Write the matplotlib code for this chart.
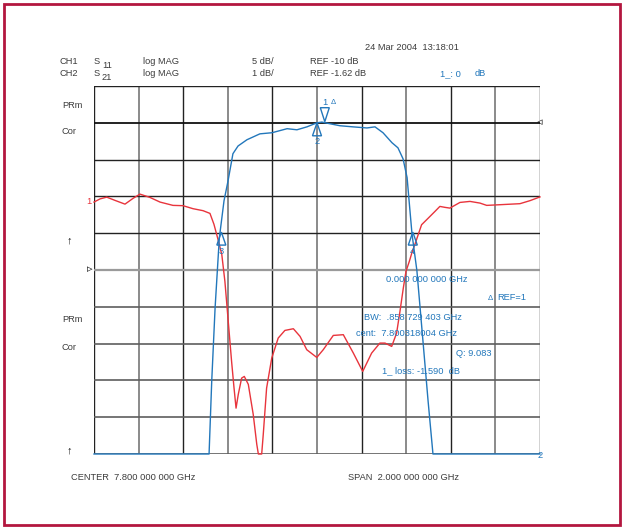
import matplotlib
matplotlib.use("Agg")
import matplotlib.pyplot as plt
import matplotlib.transforms as mtransforms
from matplotlib.patches import Polygon, Rectangle
import numpy as np

plt.rcParams["font.family"] = ["Liberation Sans", "DejaVu Sans"]

# S11 trace (CH1), frequency in GHz, level in dB
s11_freq = [6.800, 6.827, 6.857, 6.894, 6.939, 6.975, 7.006, 7.051, 7.096, 7.154,
            7.199, 7.244, 7.289, 7.320, 7.338, 7.356, 7.373, 7.387, 7.402, 7.417,
            7.428, 7.437, 7.447, 7.462, 7.474, 7.492, 7.514, 7.530, 7.537, 7.552,
            7.559, 7.574, 7.597, 7.626, 7.656, 7.694, 7.724, 7.754, 7.799, 7.828,
            7.873, 7.918, 7.963, 8.005, 8.045, 8.082, 8.105, 8.135, 8.157, 8.172,
            8.187, 8.199, 8.214, 8.226, 8.239, 8.269, 8.299, 8.329, 8.351, 8.374,
            8.396, 8.441, 8.486, 8.531, 8.561, 8.620, 8.710, 8.755, 8.800]
s11_db = [-10.77, -10.34, -10.10, -10.54, -11.05, -10.27, -9.69, -10.14, -10.77, -11.22,
          -11.26, -11.67, -11.94, -12.31, -13.80, -15.84, -17.88, -21.55, -26.98, -32.42,
          -36.05, -38.77, -36.90, -34.69, -34.46, -35.54, -39.62, -43.70, -47.0, -47.0,
          -42.34, -36.05, -31.97, -29.25, -28.21, -27.98, -29.02, -30.83, -31.88, -30.83,
          -28.89, -28.79, -31.29, -33.78, -31.29, -29.93, -29.93, -30.38, -28.57, -25.63,
          -22.46, -20.19, -18.83, -17.61, -16.52, -13.85, -12.95, -12.04, -11.36, -11.49,
          -11.59, -10.82, -10.68, -10.91, -11.22, -11.13, -10.99, -10.58, -10.07]

# S21 trace (CH2)
s21_freq = [6.800, 7.316, 7.328, 7.343, 7.362, 7.383, 7.401, 7.423, 7.446, 7.486,
            7.544, 7.598, 7.666, 7.710, 7.755, 7.800, 7.822, 7.845, 7.903, 7.961,
            8.024, 8.060, 8.096, 8.136, 8.163, 8.186, 8.204, 8.213, 8.226, 8.248,
            8.275, 8.298, 8.320, 8.800]
s21_db = [-12.0, -12.0, -8.63, -6.65, -4.75, -3.74, -3.20, -2.46, -2.25, -2.08,
          -1.92, -1.89, -1.78, -1.81, -1.73, -1.62, -1.60, -1.63, -1.70, -1.73,
          -1.76, -1.73, -1.89, -2.16, -2.30, -2.60, -3.11, -3.74, -4.64, -5.64,
          -7.54, -9.17, -12.0, -12.0]

# markers: (label, freq GHz, S21 dB)
marker_names = ["1", "2", "3", "4"]
marker_freq = [7.835, 7.800, 7.371, 8.2296]
marker_db = [-1.59, -1.62, -4.59, -4.59]

center, span = 7.8, 2.0
ch1_scale, ch1_ref, ch1_refpos = 5.0, -10.0, 7
ch2_scale, ch2_ref, ch2_refpos = 1.0, -1.62, 9

RED = "#e8343c"
BLUE = "#2277bb"
GREY = "#3c3c3c"
FS = 6.7

W, H = 624, 529
fig = plt.figure(figsize=(W / 100, H / 100), dpi=100)
fig.patch.set_facecolor("white")

ax = fig.add_axes([94 / W, 1 - 454 / H, 446 / W, 368 / H])
ax2 = ax.twinx()

xmin, xmax = center - span / 2, center + span / 2
ax.set_xlim(xmin, xmax)
ax.set_ylim(ch1_ref - ch1_refpos * ch1_scale, ch1_ref + (10 - ch1_refpos) * ch1_scale)
ax2.set_ylim(ch2_ref - ch2_refpos * ch2_scale, ch2_ref + (10 - ch2_refpos) * ch2_scale)

for a in (ax, ax2):
    a.set_xticks([])
    a.set_yticks([])
    for s in a.spines.values():
        s.set_visible(False)

# graticule
ylo, yhi = ax.get_ylim()
for i, xv in enumerate(np.linspace(xmin, xmax, 11)):
    if i in (0, 10):
        c, lw = "#222222", 1.0
    elif i % 2 == 1:
        c, lw = "#8a8a8a", 1.4
    else:
        c, lw = "#222222", 1.0
    ax.axvline(xv, color=c, lw=lw, zorder=1)
for j, yv in enumerate(np.linspace(ylo, yhi, 11)):
    if j == 9:
        c, lw = "#111111", 1.3
    elif j >= 6:
        c, lw = "#222222", 1.0
    elif j == 5:
        c, lw = "#9a9a9a", 1.6
    else:
        c, lw = "#5e5e5e", 1.2
    ax.axhline(yv, color=c, lw=lw, zorder=1)

# traces, clipped to the screen like the analyzer does
s11 = np.clip(s11_db, *ax.get_ylim())
s21 = np.clip(s21_db, *ax2.get_ylim())
ax.plot(s11_freq, s11, color=RED, lw=1.0, zorder=3, clip_on=False)
ax2.plot(s21_freq, s21, color=BLUE, lw=1.0, zorder=3, clip_on=False)

# marker triangles (sizes in inches)
for name, f, d in zip(marker_names, marker_freq, marker_db):
    trans = fig.dpi_scale_trans + mtransforms.ScaledTranslation(f, d, ax2.transData)
    if name == "1":
        verts = [(0, 0), (-0.045, 0.14), (0.045, 0.14)]
        ax2.text(0, 0.19, "1", transform=trans, color=BLUE, fontsize=FS,
                 ha="center", va="center")
        ax2.text(0.085, 0.195, "Δ", transform=trans, color=BLUE, fontsize=5.5,
                 ha="center", va="center")
    else:
        verts = [(0, 0), (-0.045, -0.13), (0.045, -0.13)]
        ax2.text(0, -0.19, name, transform=trans, color=BLUE, fontsize=FS,
                 ha="center", va="center")
    ax2.add_patch(Polygon(verts, closed=True, fill=False, ec=BLUE, lw=1.0,
                          transform=trans, zorder=4, clip_on=False))


def put(x, y, s, color=GREY, size=FS, **kw):
    fig.text(x / W, 1 - y / H, s, color=color, fontsize=size, va="center", **kw)


# header
put(365, 47, "24 Mar 2004  13:18:01")
put(60, 62, "CH1")
put(94, 61, "S")
put(102, 65, "11")
put(143, 62, "log MAG")
put(252, 62, "5 dB/")
put(310, 62, "REF -10 dB")
put(60, 74, "CH2")
put(94, 73, "S")
put(102, 77, "21")
put(143, 74, "log MAG")
put(252, 74, "1 dB/")
put(310, 74, "REF -1.62 dB")
put(440, 74, "1_: 0", color=BLUE)
put(475, 74, "dB", color=BLUE)

# left side annotations
put(62, 105, "PRm")
put(62, 132, "Cor")
put(86, 201, "1", color=RED)
put(67, 240, "↑", color="#111111", size=8)
put(87, 269, "▹", color="#111111", size=8)
put(62, 320, "PRm")
put(62, 347, "Cor")
put(67, 450, "↑", color="#111111", size=8)

# right side
put(536, 122, "◃", color="#111111", size=8)
put(538, 456, "2", color=BLUE)

# marker readout
put(386, 280, "0.000 000 000 GHz", color=BLUE)
put(488, 298, "Δ", color=BLUE, size=5.5)
put(497, 297, "REF=1", color=BLUE)
put(364, 317, "BW:  .858 729 403 GHz", color=BLUE)
put(356, 334, "cent:  7.800318004 GHz", color=BLUE)
put(456, 353, "Q: 9.083", color=BLUE)
put(382, 371, "1_ loss: -1.590  dB", color=BLUE)

# footer
put(71, 477, "CENTER  7.800 000 000 GHz")
put(348, 477, "SPAN  2.000 000 000 GHz")

# crimson frame
fig.patches.append(Rectangle((4 / W, 4 / H), 616 / W, 521 / H, transform=fig.transFigure,
                             fill=False, ec="#b3163f", lw=2.0))

fig.savefig("out.png", dpi=100)
